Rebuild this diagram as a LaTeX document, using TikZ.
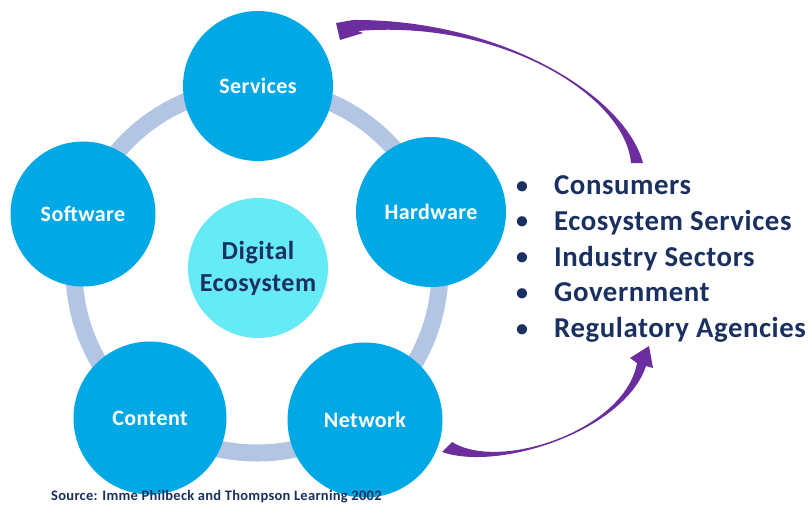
\documentclass[tikz,border=0pt]{standalone}
\usepackage{fontspec}
\setmainfont{Carlito}
\newfontfamily\calfont[LetterSpace=2]{Carlito}
\definecolor{cblue}{RGB}{0,169,230}
\definecolor{ccyan}{RGB}{102,234,245}
\definecolor{cring}{RGB}{178,198,228}
\definecolor{cpurple}{RGB}{108,46,158}
\definecolor{cnavy}{RGB}{25,48,96}
\newcommand{\listbullet}{\raisebox{1.5pt}{\fontsize{24}{26}\selectfont\textbullet}}
\tikzset{
  outer/.style={circle, fill=cblue, minimum size=150pt, inner sep=0pt, text=white, font=\calfont\bfseries\fontsize{22}{26}\selectfont},
  inner/.style={circle, fill=ccyan, minimum size=140pt, inner sep=0pt, text=cnavy, align=center, font=\calfont\bfseries\fontsize{26}{32}\selectfont},
  arrowfill/.style={fill=cpurple}
}
\begin{document}
\begin{tikzpicture}[x=1pt,y=-1pt]
\useasboundingbox (0,0) rectangle (810,509);
\coordinate (ringc) at (257,270);
\draw[cring, line width=17pt] (ringc) circle[radius=183];
\node[inner] (digital) at (258,268) {Digital\\Ecosystem};
\node[outer] (services) at (258,86) {Services};
\node[outer, minimum size=145pt] (software) at (83,214) {Software};
\node[outer] (hardware) at (431,212) {Hardware};
\node[outer, minimum size=153pt] (content) at (150,418) {Content};
\node[outer, minimum size=155pt] (network) at (365,420) {Network};
\node[anchor=west, text=cnavy, inner sep=0pt, font=\calfont\bfseries\fontsize{28.8}{35.75}\selectfont] (list) at (516,259)
 {\begin{tabular}{@{}l@{\hspace{26pt}}l@{}}
 \listbullet & Consumers\\
 \listbullet & Ecosystem Services\\
 \listbullet & Industry Sectors\\
 \listbullet & Government\\
 \listbullet & Regulatory Agencies
 \end{tabular}};
\node[anchor=west, text=cnavy, inner sep=0pt, font=\calfont\bfseries\fontsize{14.5}{17}\selectfont] (source) at (51,497) {Source: Imme Philbeck and Thompson Learning 2002};
% top arrow: list -> services
\coordinate (ttail) at (637,163);
\coordinate (thead) at (337,30);
\fill[arrowfill] ([xshift=6pt]ttail) .. controls (625,95) and (500,19) .. (353,20)
  -- (336,23) -- (340,40) -- (363,33) -- (358,31)
  .. controls (500,19) and (625,95) .. ([xshift=-6pt]ttail) -- cycle;
% bottom arrow: network -> list
\coordinate (btail) at (447,447);
\coordinate (bhead) at (649,346);
\fill[arrowfill] (442,452) .. controls (500,472) and (625,430) .. (646,366)
  -- (653,368) -- (649,346) -- (630,358) -- (637,363)
  .. controls (625,430) and (500,472) .. (452,442) -- cycle;
\end{tikzpicture}
\end{document}
